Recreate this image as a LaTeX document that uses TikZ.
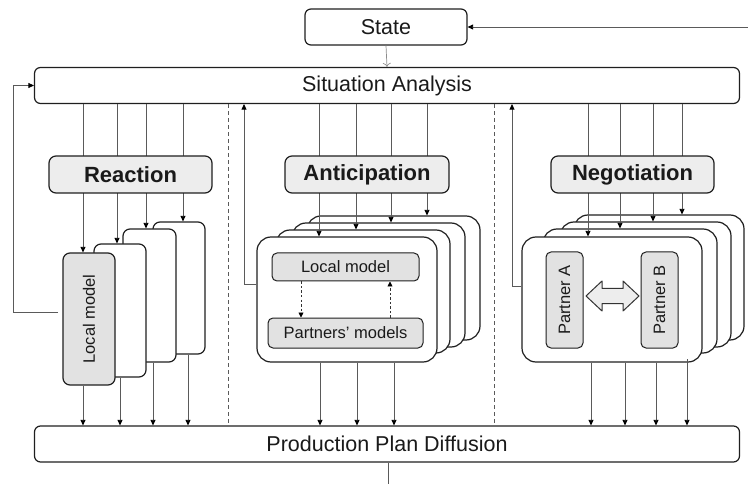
\documentclass[tikz,border=0pt]{standalone}
\usepackage{fontspec}
\setmainfont{Liberation Sans}
\usetikzlibrary{arrows.meta,calc}
\definecolor{txt}{HTML}{1A1A1A}
\definecolor{lbl}{HTML}{EDEDED}
\definecolor{inner}{HTML}{E2E2E2}
\definecolor{lin}{HTML}{5A5A5A}
\begin{document}
\begin{tikzpicture}[x=1pt,y=-1pt,
  bx/.style={draw=black!88,line width=1.2pt,fill=white,rounded corners=7pt,inner sep=0pt,text=txt},
  bigbx/.style={bx,rounded corners=14pt},
  lblbx/.style={bx,fill=lbl,font=\fontsize{22}{26}\selectfont\bfseries},
  mainbx/.style={bx,rounded corners=6pt,font=\fontsize{21.5}{26}\selectfont},
  innerbx/.style={bx,fill=inner,rounded corners=5pt,line width=1pt,font=\fontsize{16.5}{20}\selectfont},
  conn/.style={draw=lin,line width=0.8pt,-{Triangle[length=5.5pt,width=5pt,color=black]}},
  plain/.style={draw=lin,line width=0.8pt},
  sep/.style={draw=lin,line width=0.7pt,dash pattern=on 4pt off 3pt},
  dconn/.style={draw=black!80,line width=0.9pt,dash pattern=on 2.5pt off 2pt,-{Triangle[length=5pt,width=5pt,color=black]}}
]
\useasboundingbox (0,0) rectangle (748,484);

% main boxes
\node[mainbx,minimum width=162pt,minimum height=36pt] (state) at (386,27) {State};
\node[mainbx,minimum width=705pt,minimum height=36pt] (sa) at (387,85.5) {Situation Analysis};
\node[mainbx,minimum width=705pt,minimum height=36pt] (ppd) at (387,444) {Production Plan Diffusion};

% Reaction stack
\node[bx,minimum width=52pt,minimum height=132pt] (r4) at (179,288) {};
\node[bx,minimum width=53pt,minimum height=133pt] (r3) at (149.5,295.5) {};
\node[bx,minimum width=52pt,minimum height=133pt] (r2) at (120,310.5) {};
\node[bx,fill=inner,minimum width=52pt,minimum height=132pt] (r1) at (89,319)
  {\rotatebox{90}{\fontsize{16.5}{20}\selectfont Local model}};

% Anticipation stack
\node[bigbx,minimum width=173pt,minimum height=124pt] (a4) at (393.5,278) {};
\node[bigbx,minimum width=173pt,minimum height=124pt] (a3) at (378.5,285) {};
\node[bigbx,minimum width=174pt,minimum height=123pt] (a2) at (363,291.5) {};
\node[bigbx,minimum width=180pt,minimum height=125pt] (a1) at (347,299.5) {};
\node[innerbx,minimum width=147pt,minimum height=28pt] (lm) at (345.5,267) {Local model};
\node[innerbx,minimum width=155pt,minimum height=30pt] (pm) at (345.5,333) {Partners' models};

% Negotiation stack
\node[bigbx,minimum width=170pt,minimum height=125pt] (n4) at (659,277.5) {};
\node[bigbx,minimum width=171pt,minimum height=125pt] (n3) at (645.5,284.5) {};
\node[bigbx,minimum width=174pt,minimum height=124pt] (n2) at (630,291) {};
\node[bigbx,minimum width=180pt,minimum height=125pt] (n1) at (612,299.5) {};
\node[innerbx,minimum width=37pt,minimum height=96pt] (pa) at (564.5,300) {\rotatebox{90}{Partner A}};
\node[innerbx,minimum width=37pt,minimum height=96pt] (pb) at (659.5,300) {\rotatebox{90}{Partner B}};
\draw[draw=black!80,fill=lbl,line width=1pt,line join=round]
  (586,296) -- (602,281) -- (602,288.5) -- (623,288.5) -- (623,281) -- (639,296)
  -- (623,311) -- (623,303.5) -- (602,303.5) -- (602,311) -- cycle;

% separators
\draw[sep] (228,0 |- sa.south) -- (228,0 |- ppd.north);
\draw[sep] (494,0 |- sa.south) -- (494,0 |- ppd.north);

% state connections
\coordinate (rin) at (748,27);
\draw[conn] (rin) -- (state.east);
\draw[draw=black!45,line width=0.7pt,-{To[length=4pt,width=8pt,color=black!45]}] (state.south) -- (sa.north);
\coordinate (pout) at (388,484);
\draw[plain] (ppd.south -| pout) -- (pout);

% Reaction connectors
\draw[conn] (83,0 |- sa.south) -- (83,0 |- r1.north);
\draw[conn] (117,0 |- sa.south) -- (117,0 |- r2.north);
\draw[conn] (146,0 |- sa.south) -- (146,0 |- r3.north);
\draw[conn] (183,0 |- sa.south) -- (183,0 |- r4.north);
\draw[conn] (83,0 |- r1.south) -- (83,0 |- ppd.north);
\draw[conn] (120,0 |- r2.south) -- (120,0 |- ppd.north);
\draw[conn] (153,0 |- r3.south) -- (153,0 |- ppd.north);
\draw[conn] (188,0 |- r4.south) -- (188,0 |- ppd.north);
\coordinate (fb1) at (58,312);
\draw[conn] (fb1) -- (13,312) -- (13,0 |- sa.west) -- (sa.west);

% Anticipation connectors
\draw[conn] (319,0 |- sa.south) -- (319,0 |- a1.north);
\draw[conn] (356,0 |- sa.south) -- (356,0 |- a2.north);
\draw[conn] (391,0 |- sa.south) -- (391,0 |- a3.north);
\draw[conn] (427,0 |- sa.south) -- (427,0 |- a4.north);
\draw[conn] (320,0 |- a1.south) -- (320,0 |- ppd.north);
\draw[conn] (357,0 |- a1.south) -- (357,0 |- ppd.north);
\draw[conn] (394,0 |- a1.south) -- (394,0 |- ppd.north);
\draw[conn] (a1.west |- 0,284) -- (244,284) -- (244,0 |- sa.south);
\draw[dconn] (301,0 |- lm.south) -- (301,0 |- pm.north);
\draw[dconn] (390,0 |- pm.north) -- (390,0 |- lm.south);

% Negotiation connectors
\draw[conn] (588,0 |- sa.south) -- (588,0 |- n1.north);
\draw[conn] (620,0 |- sa.south) -- (620,0 |- n2.north);
\draw[conn] (653,0 |- sa.south) -- (653,0 |- n3.north);
\draw[conn] (682,0 |- sa.south) -- (682,0 |- n4.north);
\draw[conn] (591,0 |- n1.south) -- (591,0 |- ppd.north);
\draw[conn] (625,0 |- n1.south) -- (625,0 |- ppd.north);
\draw[conn] (656,0 |- n1.south) -- (656,0 |- ppd.north);
\draw[conn] (687,359) -- (687,0 |- ppd.north);
\draw[conn] (n1.west |- 0,286) -- (512,286) -- (512,0 |- sa.south);

% labels (drawn over the connectors)
\node[lblbx,minimum width=163pt,minimum height=37pt] (reac) at (130.5,174.5) {Reaction};
\node[lblbx,minimum width=164pt,minimum height=37pt] (anti) at (367,174.5) {Anticipation};
\node[lblbx,minimum width=163pt,minimum height=37pt] (nego) at (632.5,174.5) {Negotiation};
\end{tikzpicture}
\end{document}
